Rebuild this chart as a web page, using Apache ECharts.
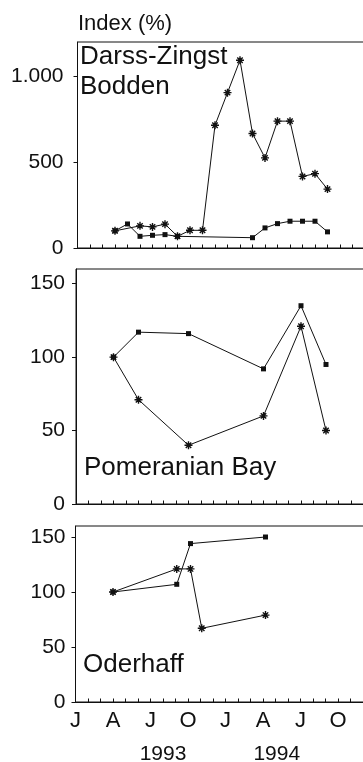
<!DOCTYPE html>
<html>
<head>
<meta charset="utf-8">
<script src="https://cdn.jsdelivr.net/npm/echarts@6/dist/echarts.min.js"></script>
<style>
  html, body { margin: 0; padding: 0; background: #fff; }
  #chart { width: 363px; height: 762px; }
</style>
</head>
<body>
<div id="chart"></div>
<script>
// Time axis: months counted from January 1993 (0 = Jan 1993)
const monthTicks = [0, 1, 2, 3, 4, 5, 6, 7, 8, 9, 10, 11, 12, 13, 14, 15, 16, 17, 18, 19, 20, 21, 22, 23];
const monthLabelValues = [0, 3, 6, 9, 12, 15, 18, 21];
const monthLabels = ['J', 'A', 'J', 'O', 'J', 'A', 'J', 'O'];
const yearLabels = ['1993', '1994'];
const yearLabelMonths = [7, 16.1];

// Darss-Zingst Bodden
const darssStarMonths = [3, 5, 6, 7, 8, 9, 10, 11, 12, 13, 14, 15, 16, 17, 18, 19, 20];
const darssStarValues = [100, 129, 123, 139, 68, 103, 103, 715, 905, 1094, 667, 525, 739, 739, 417, 433, 343];
const darssSquareMonths = [3, 4, 5, 6, 7, 8, 14, 15, 16, 17, 18, 19, 20];
const darssSquareValues = [100, 140, 68, 74, 78, 68, 60, 117, 142, 156, 156, 156, 94];

// Pomeranian Bay
const bayStarMonths = [3, 5, 9, 15, 18, 20];
const bayStarValues = [100, 71, 40, 60, 121, 50];
const baySquareMonths = [3, 5, 9, 15, 18, 20];
const baySquareValues = [100, 117, 116, 92, 135, 95];

// Oderhaff
const haffStarMonths = [3, 8.1, 9.2, 10.1, 15.2];
const haffStarValues = [100, 121, 121, 67, 79];
const haffSquareMonths = [3, 8.1, 9.2, 15.2];
const haffSquareValues = [100, 107, 144, 150];

// Value-axis ticks and their printed labels
const darssTicks = [0, 500, 1000];
const darssTickLabels = ['0', '500', '1.000'];
const smallTicks = [0, 50, 100, 150];
const smallTickLabels = ['0', '50', '100', '150'];

const panelNames = ['Darss-Zingst\nBodden', 'Pomeranian Bay', 'Oderhaff'];
const yAxisTitle = 'Index (%)';

const INK = '#111';
const FONT = '"Liberation Sans", Arial, Helvetica, sans-serif';
const asterisk = 'path://M5,0L5,10M0,5L10,5M1.6,1.6L8.4,8.4M1.6,8.4L8.4,1.6';

const zip = (xs, ys) => xs.map((x, i) => [x, ys[i]]);

const panels = [
  { left: 77.5, top: 42, height: 206, max: 1200, labelGap: 14, ticks: darssTicks, labels: darssTickLabels,
    stars: zip(darssStarMonths, darssStarValues), squares: zip(darssSquareMonths, darssSquareValues) },
  { left: 76, top: 269, height: 235, max: 160, labelGap: 11, ticks: smallTicks, labels: smallTickLabels,
    stars: zip(bayStarMonths, bayStarValues), squares: zip(baySquareMonths, baySquareValues) },
  { left: 75.5, top: 526, height: 176, max: 160, labelGap: 10, ticks: smallTicks, labels: smallTickLabels,
    stars: zip(haffStarMonths, haffStarValues), squares: zip(haffSquareMonths, haffSquareValues) }
];

// Each panel runs 24 months at 12.5 px per month; the right edge lies past the page
const grid = panels.map(p => ({
  left: p.left, top: p.top, width: 300, height: p.height,
  outerBoundsMode: 'none', containLabel: false,
  show: true, borderColor: INK, borderWidth: 1, backgroundColor: 'transparent'
}));

const xAxis = panels.map((p, i) => ({
  type: 'value', gridIndex: i, min: 0, max: 24,
  axisLine: { show: true, onZero: false, lineStyle: { color: INK, width: 1 } },
  axisTick: { show: true, inside: true, length: 3.5, customValues: monthTicks,
              lineStyle: { color: INK, width: 1 } },
  axisLabel: {
    show: i === 2, customValues: monthLabelValues, margin: 8,
    fontFamily: FONT, fontSize: 22, color: INK,
    formatter: v => monthLabels[monthLabelValues.indexOf(v)] || ''
  },
  splitLine: { show: false }
}));

const yAxis = panels.map((p, i) => ({
  type: 'value', gridIndex: i, min: 0, max: p.max,
  axisLine: { show: true, lineStyle: { color: INK, width: 1 } },
  axisTick: { show: true, inside: false, length: 4, customValues: p.ticks,
              lineStyle: { color: INK, width: 1 } },
  axisLabel: {
    customValues: p.ticks, margin: p.labelGap,
    fontFamily: FONT, fontSize: 21, color: INK,
    formatter: v => p.labels[p.ticks.indexOf(v)] || ''
  },
  splitLine: { show: false }
}));

const series = [];
panels.forEach((p, i) => {
  series.push({
    type: 'line', xAxisIndex: i, yAxisIndex: i, data: p.squares,
    symbol: 'rect', symbolSize: 5, showAllSymbol: true,
    lineStyle: { color: INK, width: 1 },
    itemStyle: { color: INK }
  });
  series.push({
    type: 'line', xAxisIndex: i, yAxisIndex: i, data: p.stars,
    symbol: asterisk, symbolSize: 8, showAllSymbol: true,
    lineStyle: { color: INK, width: 1 },
    itemStyle: { color: INK, borderColor: INK, borderWidth: 1.4 }
  });
});

const labelTops = [42, 453, 649.5];
const labelLefts = [80, 84, 83];
const graphic = [
  { type: 'text', left: 78, top: 11,
    style: { text: yAxisTitle, font: '22px ' + FONT, fill: INK, lineHeight: 25 } }
].concat(panelNames.map((name, i) => ({
  type: 'text', left: labelLefts[i], top: labelTops[i],
  style: { text: name, font: '26px ' + FONT, fill: INK, lineHeight: 30 }
})));

const chart = echarts.init(document.getElementById('chart'), null, { renderer: 'canvas' });
chart.setOption({
  animation: false,
  backgroundColor: '#fff',
  grid, xAxis, yAxis, series, graphic
});

// Year captions centred under the bottom time axis
const yearGraphics = yearLabels.map((yr, k) => ({
  type: 'text',
  x: chart.convertToPixel({ xAxisIndex: 2 }, yearLabelMonths[k]),
  y: 742.5,
  style: { text: yr, font: '21px ' + FONT, fill: INK, textAlign: 'center',
           textVerticalAlign: 'top', lineHeight: 24 }
}));
chart.setOption({ graphic: graphic.concat(yearGraphics) });
</script>
</body>
</html>
